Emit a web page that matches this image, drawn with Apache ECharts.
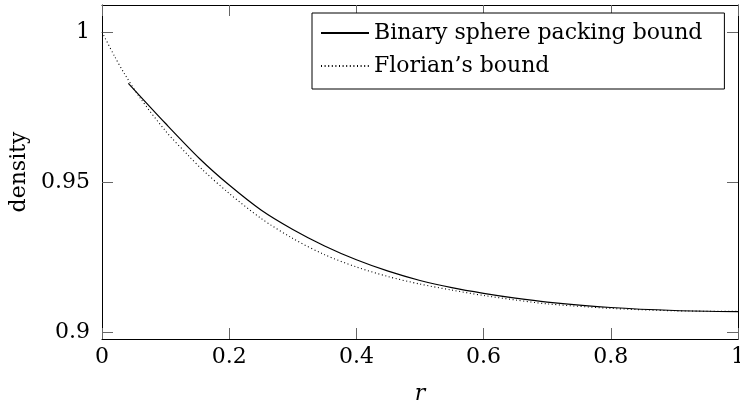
<!DOCTYPE html>
<html><head><meta charset="utf-8">
<script src="https://cdn.jsdelivr.net/npm/echarts@6/dist/echarts.min.js"></script>
<style>html,body{margin:0;padding:0;background:#fff}#c{width:740px;height:403px}</style>
</head><body><div id="c"></div>
<script>
const seriesNames = ['Binary sphere packing bound', 'Florian\u2019s bound'];
const binaryR = [0.0414, 0.1, 0.154, 0.2, 0.25, 0.3, 0.35, 0.4, 0.45, 0.5, 0.55, 0.6, 0.65, 0.7, 0.8, 0.9, 1.0];
const binaryDensity = [0.9829, 0.9695, 0.9577, 0.9490, 0.9407, 0.9342, 0.9287, 0.9241, 0.9203, 0.9172, 0.9148, 0.9129, 0.9113, 0.9100, 0.9082, 0.9072, 0.9068];
const florianR = [0, 0.02, 0.035, 0.06, 0.1, 0.136, 0.157, 0.2, 0.25, 0.3, 0.35, 0.4, 0.45, 0.5, 0.55, 0.6, 0.65, 0.7, 0.8, 0.9, 1.0];
const florianDensity = [1.0, 0.9918, 0.9862, 0.978, 0.967, 0.9588, 0.9543, 0.9462, 0.9379, 0.9312, 0.9258, 0.9217, 0.9185, 0.916, 0.914, 0.9122, 0.9107, 0.9094, 0.9079, 0.9071, 0.9069];
const xTicks = [0, 0.2, 0.4, 0.6, 0.8, 1];
const yTicks = [0.9, 0.95, 1];
const xRange = [0, 1];
const yRange = [0.8977, 1.009];

const FONT = 'DejaVu Serif';
const pairs = (xs, ys) => xs.map((x, i) => [x, ys[i]]);
const tickStyle = (vals) => ({ show: true, inside: true, length: 11, customValues: vals, lineStyle: { color: '#666', width: 1 } });
const frameAxis = (extra) => Object.assign({
  type: 'value',
  axisLine: { show: true, onZero: false, lineStyle: { color: '#000', width: 1 } },
  splitLine: { show: false },
  axisLabel: { show: false }
}, extra);

const chart = echarts.init(document.getElementById('c'), null, { renderer: 'canvas' });
chart.setOption({
  animation: false,
  backgroundColor: '#fff',
  textStyle: { fontFamily: FONT },
  grid: { left: 102, right: 2, top: 5, bottom: 64, containLabel: false, outerBoundsMode: 'none' },
  legend: {
    orient: 'vertical', left: 312, top: 13,
    padding: [9, 22, 12, 8], itemGap: 11, itemWidth: 48, itemHeight: 14,
    backgroundColor: '#fff', borderColor: '#000', borderWidth: 1, borderRadius: 0,
    itemStyle: { opacity: 0 },
    textStyle: { fontFamily: FONT, fontSize: 22, color: '#000', lineHeight: 22 },
    data: seriesNames
  },
  xAxis: [
    frameAxis({
      position: 'bottom', min: xRange[0], max: xRange[1],
      axisTick: tickStyle(xTicks),
      axisLabel: { show: true, customValues: xTicks, margin: 7, fontFamily: FONT, fontSize: 22, color: '#000' },
      name: 'r', nameLocation: 'middle', nameGap: 44,
      nameTextStyle: { fontFamily: FONT, fontSize: 22, fontStyle: 'italic', color: '#000' }
    }),
    frameAxis({ position: 'top', min: xRange[0], max: xRange[1], axisTick: tickStyle(xTicks) })
  ],
  yAxis: [
    frameAxis({
      position: 'left', min: yRange[0], max: yRange[1],
      axisTick: tickStyle(yTicks),
      axisLabel: { show: true, customValues: yTicks, margin: 12, fontFamily: FONT, fontSize: 22, color: '#000' },
      name: 'density', nameLocation: 'middle', nameGap: 66, nameRotate: 90,
      nameTextStyle: { fontFamily: FONT, fontSize: 22, color: '#000' }
    }),
    frameAxis({ position: 'right', min: yRange[0], max: yRange[1], axisTick: tickStyle(yTicks) })
  ],
  series: [
    {
      name: seriesNames[0], type: 'line', xAxisIndex: 0, yAxisIndex: 0,
      data: pairs(binaryR, binaryDensity), showSymbol: false, symbol: 'none',
      smooth: 0.3,
      lineStyle: { color: '#000', width: 1.2, type: 'solid' }, itemStyle: { color: '#000' }, z: 3
    },
    {
      name: seriesNames[1], type: 'line', xAxisIndex: 0, yAxisIndex: 0,
      data: pairs(florianR, florianDensity), showSymbol: false, symbol: 'none',
      smooth: 0.3,
      lineStyle: { color: '#000', width: 1.1, type: [1, 2.6] }, itemStyle: { color: '#000' }, z: 2
    }
  ]
});
</script>
</body></html>
